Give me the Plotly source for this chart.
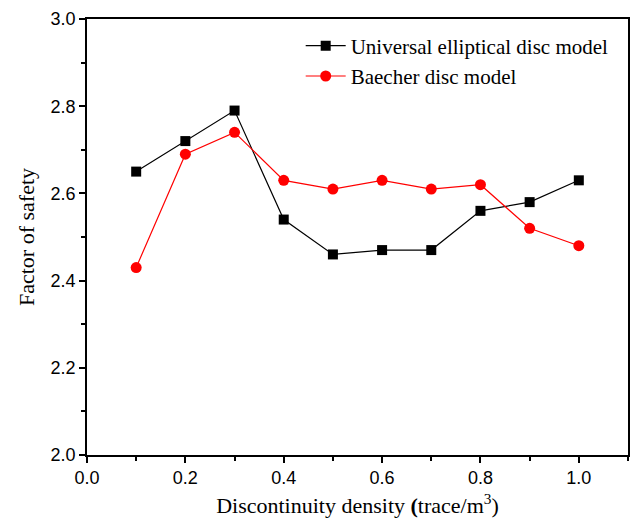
import plotly.graph_objects as go

density = [0.1, 0.2, 0.3, 0.4, 0.5, 0.6, 0.7, 0.8, 0.9, 1.0]
universal = [2.65, 2.72, 2.79, 2.54, 2.46, 2.47, 2.47, 2.56, 2.58, 2.63]
baecher = [2.43, 2.69, 2.74, 2.63, 2.61, 2.63, 2.61, 2.62, 2.52, 2.48]
x_ticks = [0.0, 0.2, 0.4, 0.6, 0.8, 1.0]
y_ticks = [2.0, 2.2, 2.4, 2.6, 2.8, 3.0]

fig = go.Figure()
fig.add_trace(go.Scatter(x=density, y=universal, mode="lines+markers",
                         name="Universal elliptical disc model",
                         line=dict(color="black", width=1.2),
                         marker=dict(symbol="square", size=10, color="black")))
fig.add_trace(go.Scatter(x=density, y=baecher, mode="lines+markers",
                         name="Baecher disc model",
                         line=dict(color="red", width=1.2),
                         marker=dict(symbol="circle", size=11, color="red")))

axis_common = dict(showgrid=False, zeroline=False, showline=True, linecolor="black",
                   linewidth=1.5, mirror=True, ticks="outside", ticklen=6, tickwidth=1.5,
                   tickcolor="black",
                   tickfont=dict(family="Liberation Sans, Arial", size=18, color="black"))

fig.update_layout(
    width=638, height=522,
    margin=dict(l=87, r=8, t=19, b=67),
    paper_bgcolor="white", plot_bgcolor="white",
    showlegend=True,
    legend=dict(x=0.395, y=0.985, xanchor="left", yanchor="top",
                bgcolor="rgba(0,0,0,0)",
                font=dict(family="Liberation Serif, Times New Roman", size=21, color="black"),
                tracegroupgap=0, itemwidth=40),
    xaxis=dict(axis_common, range=[0, 1.1], tickvals=x_ticks,
               ticktext=[f"{v:.1f}" for v in x_ticks],
               minor=dict(tickvals=[0.1, 0.3, 0.5, 0.7, 0.9, 1.1], ticks="outside",
                          ticklen=4, tickwidth=1.5, tickcolor="black"),
               title=dict(text="Discontinuity density <b>(</b>trace/m<sup>3</sup>)",
                          font=dict(family="Liberation Serif, Times New Roman", size=22, color="black"),
                          standoff=10)),
    yaxis=dict(axis_common, range=[2.0, 3.0], tickvals=y_ticks,
               ticktext=[f"{v:.1f}" for v in y_ticks],
               minor=dict(tickvals=[2.1, 2.3, 2.5, 2.7, 2.9], ticks="outside",
                          ticklen=4, tickwidth=1.5, tickcolor="black"),
               title=dict(text="Factor of safety",
                          font=dict(family="Liberation Serif, Times New Roman", size=22, color="black"),
                          standoff=10)),
)

fig.write_html("out.html")
